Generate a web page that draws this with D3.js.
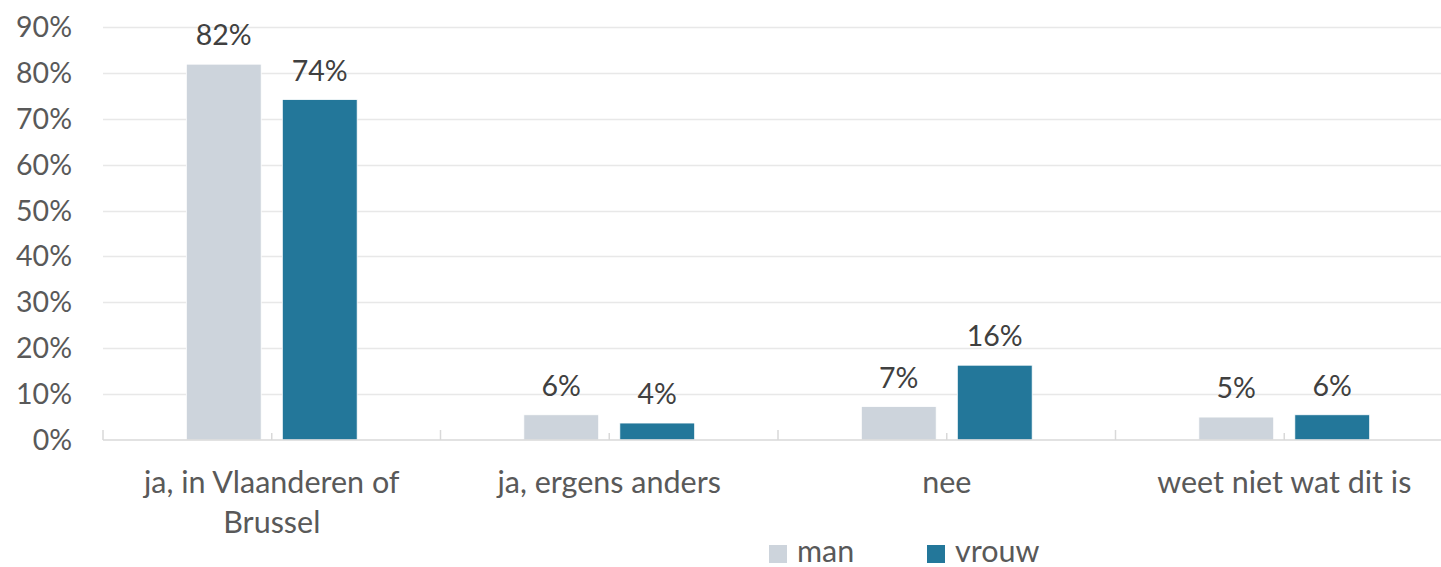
<!DOCTYPE html>
<html>
<head>
<meta charset="utf-8">
<script src="https://cdn.jsdelivr.net/npm/d3@7"></script>
<style>
  body { margin: 0; background: #fff; }
  text { font-family: Lato, "Noto Sans", sans-serif; }
</style>
</head>
<body>
<div id="chart"></div>
<script>
var categories = [["ja, in Vlaanderen of", "Brussel"], ["ja, ergens anders"], ["nee"], ["weet niet wat dit is"]];
var series = ["man", "vrouw"];
var manValues = [81.9, 5.5, 7.3, 5.0];
var vrouwValues = [74.2, 3.7, 16.3, 5.5];
var valueLabels = [["82%", "74%"], ["6%", "4%"], ["7%", "16%"], ["5%", "6%"]];
var yTicks = [0, 10, 20, 30, 40, 50, 60, 70, 80, 90];

var width = 1441, height = 567;
var margin = {left: 103, right: -12, top: 27, bottom: 127};

var color = d3.scaleOrdinal()
  .domain(series)
  .range(["#CDD4DC", "#23779A"]);

var svg = d3.select("#chart").append("svg")
  .attr("width", width)
  .attr("height", height);

var x0 = d3.scaleBand()
  .domain(d3.range(categories.length))
  .range([margin.left, width - margin.right])
  .paddingInner(0).paddingOuter(0);

var x1 = d3.scaleBand()
  .domain(series)
  .range([0, x0.bandwidth()])
  .paddingInner(0.22)
  .paddingOuter(0.868);

var y = d3.scaleLinear()
  .domain([0, 90])
  .range([height - margin.bottom, margin.top]);

// gridlines
svg.append("g")
  .selectAll("line")
  .data(yTicks.slice(1))
  .enter().append("line")
  .attr("x1", margin.left)
  .attr("x2", width - margin.right)
  .attr("y1", d => Math.round(y(d)) + 0.5)
  .attr("y2", d => Math.round(y(d)) + 0.5)
  .attr("stroke", "#E8E8E8")
  .attr("stroke-width", 1.5);

// y labels
svg.append("g")
  .selectAll("text")
  .data(yTicks)
  .enter().append("text")
  .attr("x", 72)
  .attr("y", d => y(d))
  .attr("dy", "0.35em")
  .attr("text-anchor", "end")
  .attr("fill", "#595959")
  .style("font-size", "28.5px")
  .text(d => d + "%");

// bars
var rows = categories.map((c, i) => ({i: i, values: [manValues[i], vrouwValues[i]]}));

var groups = svg.append("g")
  .selectAll("g")
  .data(rows)
  .enter().append("g")
  .attr("transform", d => "translate(" + x0(d.i) + ",0)");

groups.selectAll("rect")
  .data(d => d.values.map((v, j) => ({key: series[j], value: v, label: valueLabels[d.i][j]})))
  .enter().append("rect")
  .attr("x", d => x1(d.key))
  .attr("width", x1.bandwidth())
  .attr("y", d => y(d.value))
  .attr("height", d => y(0) - y(d.value))
  .attr("fill", d => color(d.key))
  .attr("stroke", "#fff")
  .attr("stroke-width", 0.8);

groups.selectAll("text")
  .data(d => d.values.map((v, j) => ({key: series[j], value: v, label: valueLabels[d.i][j]})))
  .enter().append("text")
  .attr("x", d => x1(d.key) + x1.bandwidth() / 2)
  .attr("y", d => y(d.value) - 19)
  .attr("text-anchor", "middle")
  .attr("fill", "#404040")
  .style("font-size", "28.5px")
  .text(d => d.label);

// x axis line and ticks
var base = y(0);
svg.append("line")
  .attr("x1", margin.left).attr("x2", width - margin.right)
  .attr("y1", base).attr("y2", base)
  .attr("stroke", "#D9D9D9").attr("stroke-width", 1.5);

svg.append("g")
  .selectAll("line")
  .data(d3.range(categories.length + 1))
  .enter().append("line")
  .attr("x1", d => margin.left + d * x0.step())
  .attr("x2", d => margin.left + d * x0.step())
  .attr("y1", base - 10).attr("y2", base)
  .attr("stroke", "#D9D9D9").attr("stroke-width", 1.5);

svg.append("g")
  .selectAll("line")
  .data(d3.range(categories.length))
  .enter().append("line")
  .attr("x1", d => x0(d) + x0.bandwidth() / 2)
  .attr("x2", d => x0(d) + x0.bandwidth() / 2)
  .attr("y1", base - 7).attr("y2", base)
  .attr("stroke", "#D9D9D9").attr("stroke-width", 1.5);

// category labels
var catText = svg.append("g")
  .selectAll("text")
  .data(categories)
  .enter().append("text")
  .attr("x", (d, i) => x0(i) + x0.bandwidth() / 2)
  .attr("y", 493)
  .attr("text-anchor", "middle")
  .attr("fill", "#595959")
  .style("font-size", "30.5px");

catText.selectAll("tspan")
  .data(d => d)
  .enter().append("tspan")
  .attr("x", function() { return d3.select(this.parentNode).attr("x"); })
  .attr("dy", (d, i) => i === 0 ? 0 : 40)
  .text(d => d);

// legend
var legendX = [769, 927];
var leg = svg.append("g")
  .selectAll("g")
  .data(series)
  .enter().append("g")
  .attr("transform", (d, i) => "translate(" + legendX[i] + ",545)");

leg.append("rect")
  .attr("width", 18).attr("height", 18)
  .attr("fill", d => color(d));

leg.append("text")
  .attr("x", 28)
  .attr("y", 17)
  .attr("fill", "#595959")
  .style("font-size", "30.5px")
  .text(d => d);
</script>
</body>
</html>
